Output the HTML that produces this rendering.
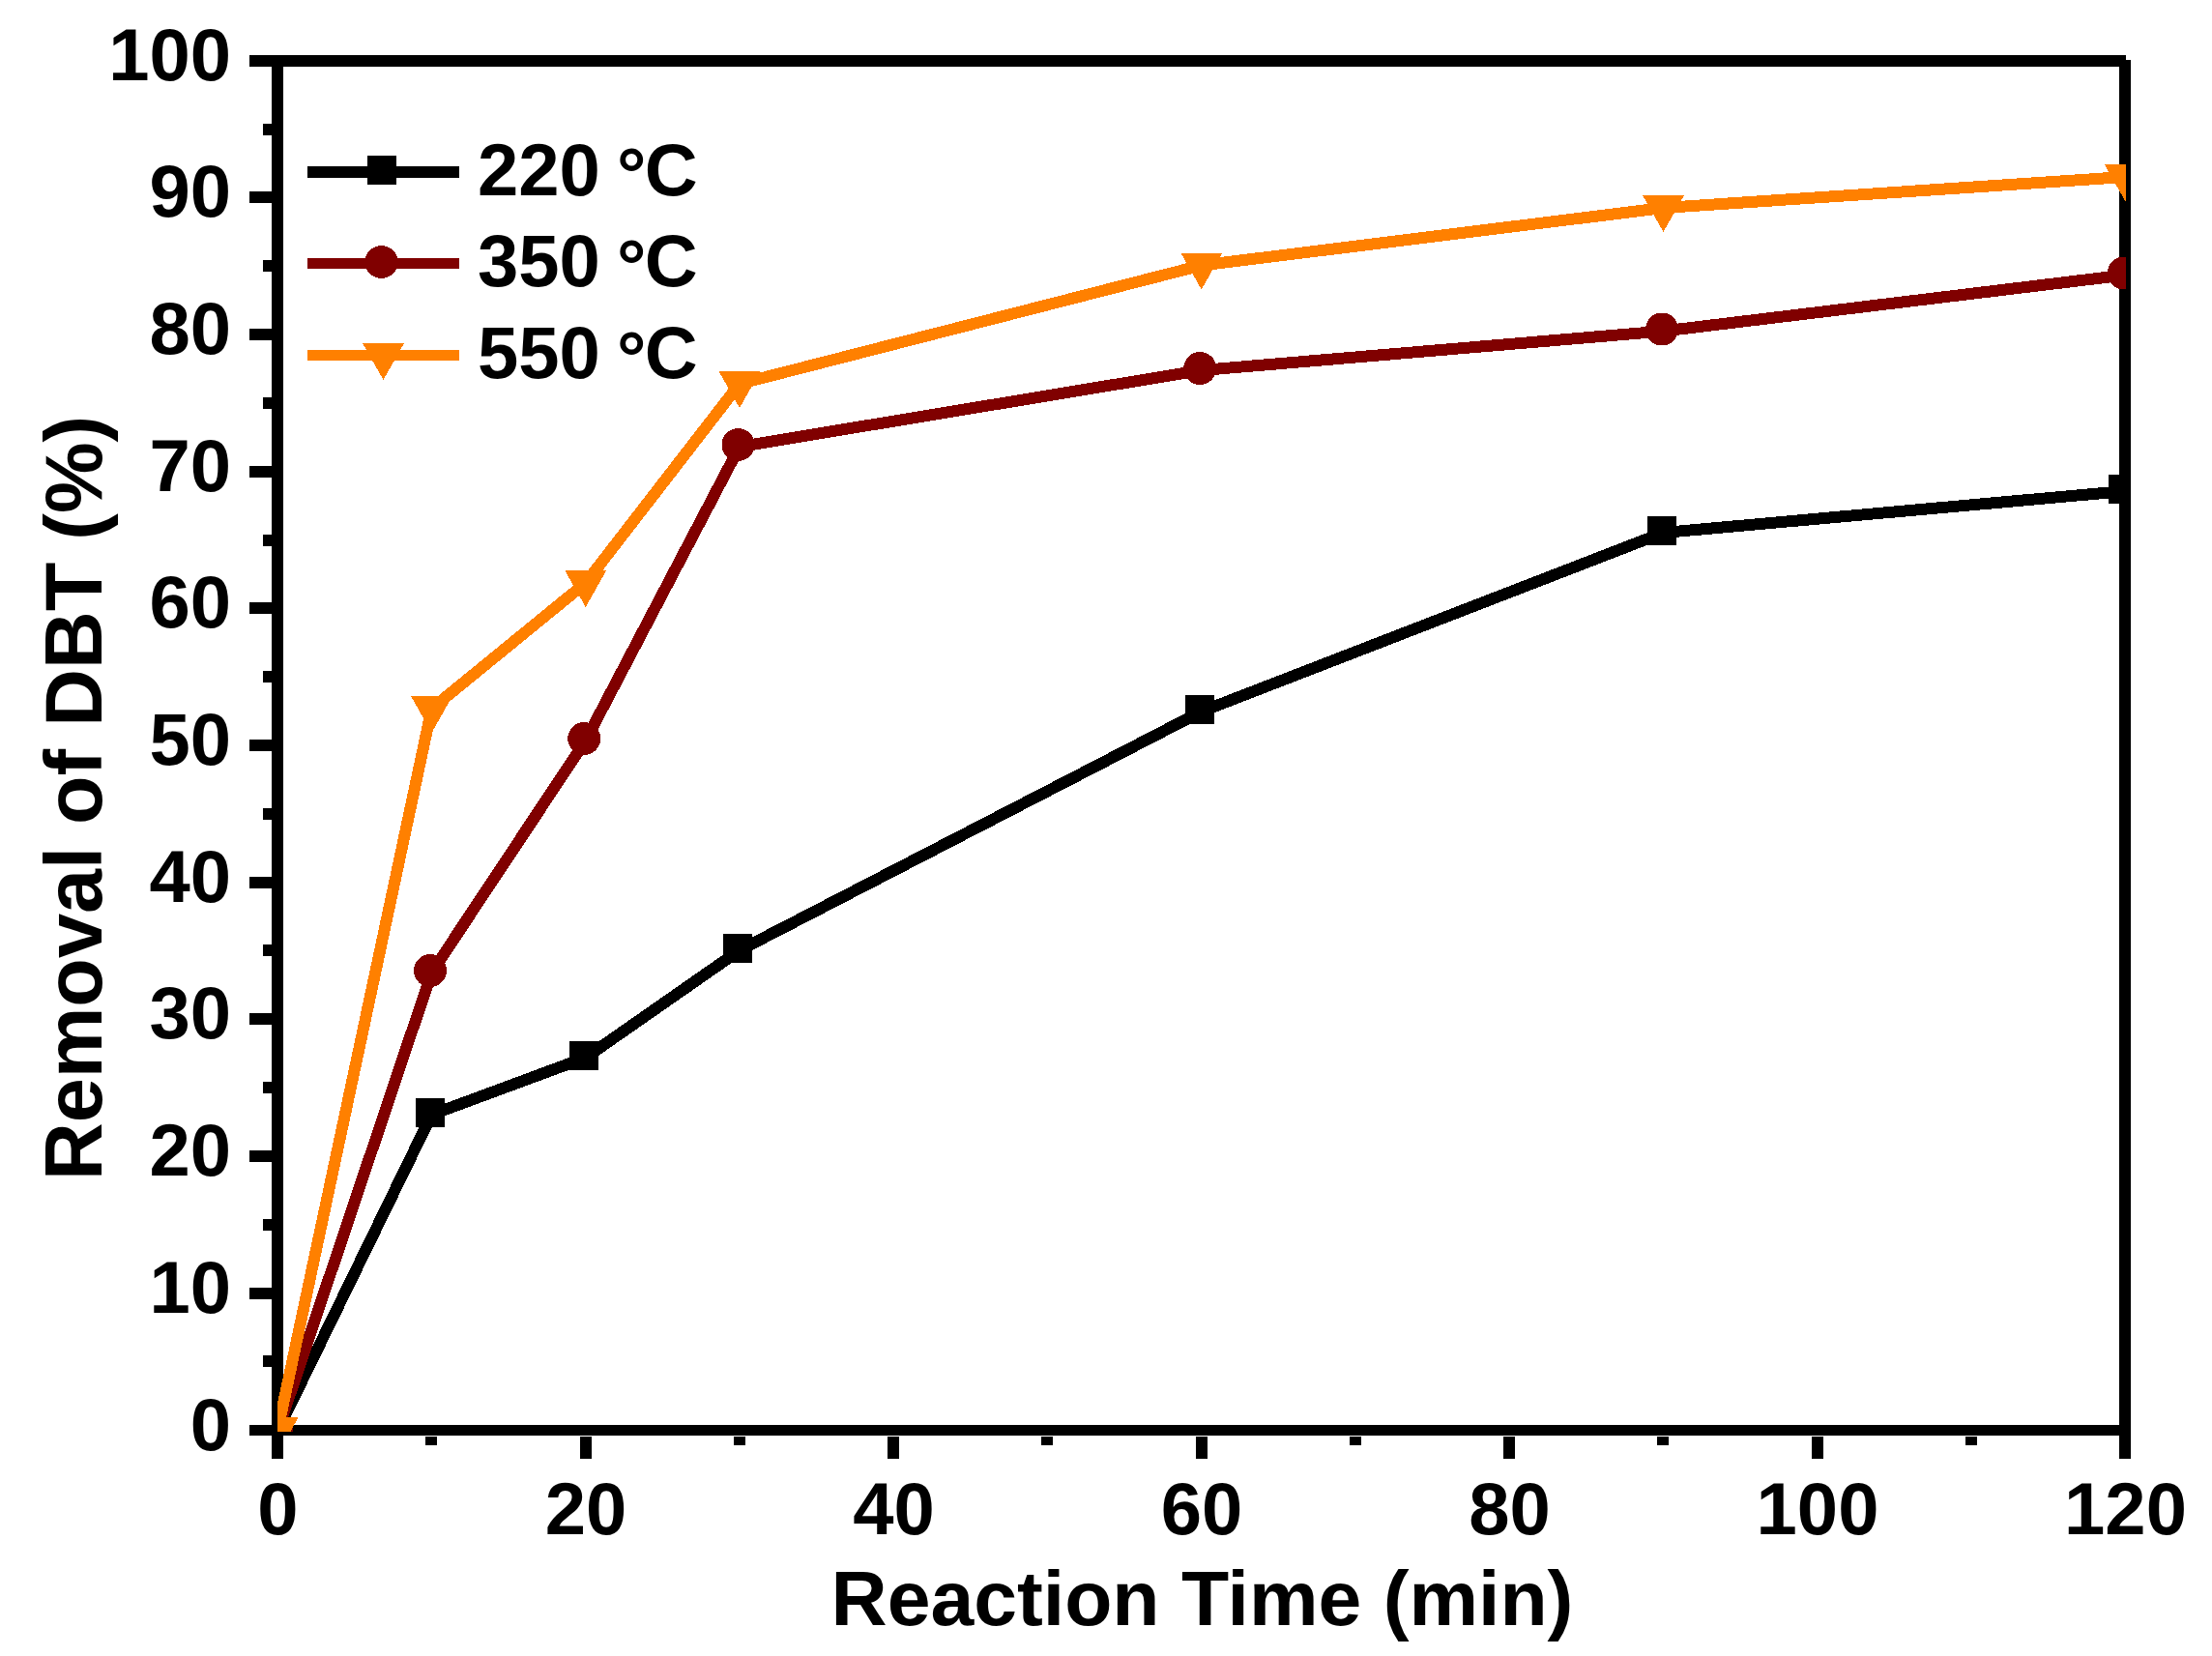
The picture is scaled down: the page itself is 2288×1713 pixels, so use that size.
<!DOCTYPE html>
<html lang="en"><head><meta charset="utf-8"><title>Removal of DBT vs Reaction Time</title>
<style>html,body{margin:0;padding:0;background:#fff;}body{width:2288px;height:1713px;overflow:hidden;}svg{display:block;}text{font-family:"Liberation Sans",Arial,Helvetica,sans-serif;font-weight:bold;fill:#000;}</style>
</head><body>
<svg width="2288" height="1713" viewBox="0 0 2288 1713">
<rect x="0" y="0" width="2288" height="1713" fill="#fff"/>
<defs><clipPath id="plotclip"><rect x="287" y="57" width="1912" height="1424"/></clipPath></defs>
<g id="axes" fill="#000" shape-rendering="crispEdges">
<rect x="281" y="57" width="12" height="1452"/>
<rect x="258" y="1474" width="1940" height="11"/>
<rect x="258" y="57" width="1941" height="12"/>
<rect x="2192" y="62" width="12" height="1447"/>
<rect x="272" y="1402" width="9" height="12"/>
<rect x="258" y="1332" width="23" height="12"/>
<rect x="272" y="1261" width="9" height="12"/>
<rect x="258" y="1190" width="23" height="12"/>
<rect x="272" y="1119" width="9" height="12"/>
<rect x="258" y="1048" width="23" height="12"/>
<rect x="272" y="977" width="9" height="12"/>
<rect x="258" y="907" width="23" height="12"/>
<rect x="272" y="836" width="9" height="12"/>
<rect x="258" y="765" width="23" height="12"/>
<rect x="272" y="694" width="9" height="12"/>
<rect x="258" y="623" width="23" height="12"/>
<rect x="272" y="553" width="9" height="12"/>
<rect x="258" y="482" width="23" height="12"/>
<rect x="272" y="411" width="9" height="12"/>
<rect x="258" y="340" width="23" height="12"/>
<rect x="272" y="269" width="9" height="12"/>
<rect x="258" y="198" width="23" height="12"/>
<rect x="272" y="128" width="9" height="12"/>
<rect x="440" y="1486" width="12" height="9"/>
<rect x="600" y="1486" width="12" height="23"/>
<rect x="759" y="1486" width="12" height="9"/>
<rect x="918" y="1486" width="12" height="23"/>
<rect x="1077" y="1486" width="12" height="9"/>
<rect x="1237" y="1486" width="12" height="23"/>
<rect x="1396" y="1486" width="12" height="9"/>
<rect x="1555" y="1486" width="12" height="23"/>
<rect x="1714" y="1486" width="12" height="9"/>
<rect x="1874" y="1486" width="12" height="23"/>
<rect x="2033" y="1486" width="12" height="9"/>
</g>
<g id="yticklabels" font-size="76" text-anchor="end">
<text x="239" y="1500">0</text>
<text x="239" y="1358">10</text>
<text x="239" y="1216">20</text>
<text x="239" y="1074">30</text>
<text x="239" y="933">40</text>
<text x="239" y="791">50</text>
<text x="239" y="649">60</text>
<text x="239" y="508">70</text>
<text x="239" y="366">80</text>
<text x="239" y="224">90</text>
<text x="239" y="83">100</text>
</g>
<g id="xticklabels" font-size="76" text-anchor="middle">
<text x="287.5" y="1587">0</text>
<text x="606" y="1587">20</text>
<text x="924.5" y="1587">40</text>
<text x="1243" y="1587">60</text>
<text x="1561.5" y="1587">80</text>
<text x="1880" y="1587">100</text>
<text x="2198.5" y="1587">120</text>
</g>
<text id="xtitle" x="1243.5" y="1681" font-size="80.5" text-anchor="middle">Reaction Time (min)</text>
<text id="ytitle" transform="translate(105,825.5) rotate(-90)" font-size="82.8" text-anchor="middle">Removal of DBT (%)</text>
<g id="data" clip-path="url(#plotclip)" shape-rendering="crispEdges">
<g fill="#000000" stroke="none">
<polyline points="287.25,1480 446.5,1153 605.75,1094 765,983 1242.75,736 1720.5,551 2198.25,508" fill="none" stroke="#000000" stroke-width="12" stroke-linejoin="round" stroke-linecap="butt"/>
<rect x="270" y="1463" width="30" height="30" rx="1"/>
<rect x="430" y="1136" width="30" height="30" rx="1"/>
<rect x="589" y="1077" width="30" height="30" rx="1"/>
<rect x="748" y="966" width="30" height="30" rx="1"/>
<rect x="1226" y="719" width="30" height="30" rx="1"/>
<rect x="1704" y="534" width="30" height="30" rx="1"/>
<rect x="2181" y="491" width="30" height="30" rx="1"/>
</g>
<g fill="#800000" stroke="none">
<polyline points="287.25,1480 446.5,1006 605.75,766 765,462 1242.75,383 1720.5,342.5 2198.25,284.5" fill="none" stroke="#800000" stroke-width="12" stroke-linejoin="round" stroke-linecap="butt"/>
<circle cx="285.75" cy="1478" r="17"/>
<circle cx="445" cy="1004" r="17"/>
<circle cx="604.25" cy="764" r="17"/>
<circle cx="763.5" cy="460" r="17"/>
<circle cx="1241.25" cy="381" r="17"/>
<circle cx="1719" cy="340.5" r="17"/>
<circle cx="2196.75" cy="282.5" r="17"/>
</g>
<g fill="#ff8000" stroke="none">
<polyline points="287.25,1479 446.5,733 605.75,603 765,397 1242.75,274.5 1720.5,215 2198.25,183" fill="none" stroke="#ff8000" stroke-width="12" stroke-linejoin="round" stroke-linecap="butt"/>
<polygon points="265.75,1466 308.75,1466 287.25,1504"/>
<polygon points="425,720 468,720 446.5,758"/>
<polygon points="584.25,590 627.25,590 605.75,628"/>
<polygon points="743.5,384 786.5,384 765,422"/>
<polygon points="1221.25,261.5 1264.25,261.5 1242.75,299.5"/>
<polygon points="1699,202 1742,202 1720.5,240"/>
<polygon points="2176.75,170 2219.75,170 2198.25,208"/>
</g>
</g>
<g id="legend" shape-rendering="crispEdges">
<rect x="318" y="172" width="157" height="12" fill="#000000" shape-rendering="crispEdges"/>
<rect x="380" y="161" width="30" height="30" rx="1" fill="#000000"/>
<text x="494" y="201.5" font-size="76">220 <tspan dx="-4" dy="5.5">°</tspan><tspan dx="-1.5" dy="-5.5">C</tspan></text>
<rect x="318" y="267" width="157" height="11" fill="#800000" shape-rendering="crispEdges"/>
<circle cx="394.5" cy="271" r="17" fill="#800000"/>
<text x="494" y="296.25" font-size="76">350 <tspan dx="-4" dy="5.5">°</tspan><tspan dx="-1.5" dy="-5.5">C</tspan></text>
<rect x="318" y="362" width="157" height="11" fill="#ff8000" shape-rendering="crispEdges"/>
<g fill="#ff8000"><polygon points="375,355 418,355 396.5,393"/></g>
<text x="494" y="391" font-size="76">550 <tspan dx="-4" dy="5.5">°</tspan><tspan dx="-1.5" dy="-5.5">C</tspan></text>
</g>
</svg>
</body></html>
